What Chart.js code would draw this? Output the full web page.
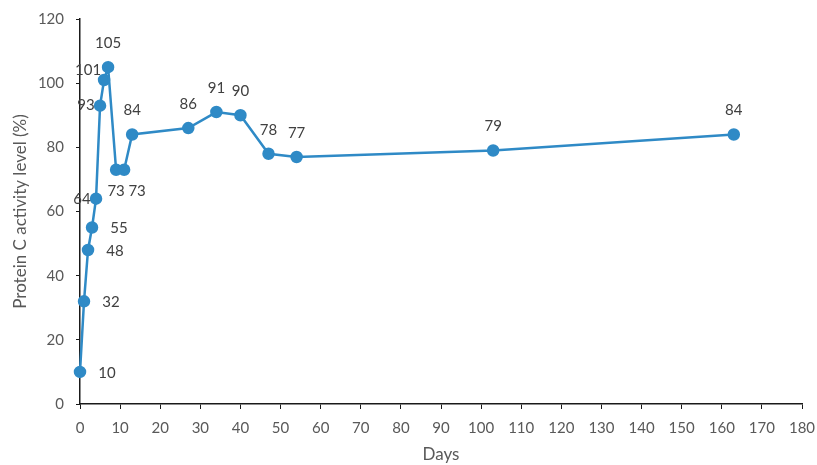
<!DOCTYPE html>
<html>
<head>
<meta charset="utf-8">
<script src="https://cdn.jsdelivr.net/npm/chart.js@4/dist/chart.umd.min.js"></script>
<style>
html,body{margin:0;padding:0;background:#fff;}
#wrap{width:817px;height:465px;position:relative;}
</style>
</head>
<body>
<div id="wrap"><canvas id="c" width="817" height="465"></canvas></div>
<script>
// Data
const days = [0, 1, 2, 3, 4, 5, 6, 7, 9, 11, 13, 27, 34, 40, 47, 54, 103, 163];
const proteinC = [10, 32, 48, 55, 64, 93, 101, 105, 73, 73, 84, 86, 91, 90, 78, 77, 79, 84];
const xTicks = [0,10,20,30,40,50,60,70,80,90,100,110,120,130,140,150,160,170,180];
const yTicks = [0,20,40,60,80,100,120];
const xTitle = 'Days';
const yTitle = 'Protein C activity level (%)';
// label placement (style only)
const labelPos = ['right','right','right','right','left','left','upleft','above','below','belowright','above','above','above','above','above','above','above','above'];

const FONT = 'Lato, "Open Sans", sans-serif';

const labelPlugin = {
  id: 'pointLabels',
  afterDatasetsDraw(chart) {
    const ctx = chart.ctx;
    const meta = chart.getDatasetMeta(0);
    ctx.save();
    ctx.font = '15px ' + FONT;
    ctx.fillStyle = '#404040';
    ctx.textBaseline = 'middle';
    meta.data.forEach((pt, i) => {
      const v = chart.data.datasets[0].data[i].y;
      let x = pt.x, y = pt.y;
      const pos = labelPos[i];
      ctx.textAlign = 'center';
      if (pos === 'right') { x += 27; y += 1; }
      else if (pos === 'left') { x -= 14; y += 0; }
      else if (pos === 'upleft') { x -= 16; y -= 10; }
      else if (pos === 'above') { y -= 24; }
      else if (pos === 'below') { y += 21; }
      else if (pos === 'belowright') { x += 13; y += 21; }
      ctx.fillText(String(v), x, y);
    });
    ctx.restore();
  }
};

new Chart(document.getElementById('c'), {
  type: 'line',
  data: {
    datasets: [{
      data: days.map((d, i) => ({x: d, y: proteinC[i]})),
      borderColor: '#2f8ac6',
      backgroundColor: '#2f8ac6',
      borderWidth: 2.5,
      pointRadius: 5,
      pointHoverRadius: 5,
      pointBackgroundColor: '#2f8ac6',
      pointBorderColor: '#2f8ac6',
      tension: 0,
      clip: false
    }]
  },
  options: {
    responsive: false,
    animation: false,
    devicePixelRatio: 1,
    layout: { padding: { left: 0, right: 15, top: 19, bottom: 0 } },
    plugins: { legend: { display: false }, tooltip: { enabled: false } },
    scales: {
      x: {
        type: 'linear',
        min: 0, max: 180,
        afterBuildTicks: (s) => { s.ticks = xTicks.map(v => ({value: v})); },
        afterFit: (s) => { s.height = 465 - 404; s.paddingLeft = 0; s.paddingRight = 0; },
        border: { display: true, color: '#1a1a1a', width: 1.5 },
        grid: { display: true, drawOnChartArea: false, drawTicks: true, tickLength: 5, color: '#1a1a1a', lineWidth: 1 },
        ticks: { color: '#595959', font: { family: FONT, size: 15 }, padding: 10, maxRotation: 0, autoSkip: false },
        title: { display: true, text: xTitle, color: '#595959', font: { family: FONT, size: 17 }, padding: { top: 0, bottom: 0 } }
      },
      y: {
        min: 0, max: 120,
        afterBuildTicks: (s) => { s.ticks = yTicks.map(v => ({value: v})); },
        afterFit: (s) => { s.width = 80; s.paddingTop = 0; s.paddingBottom = 0; },
        border: { display: true, color: '#1a1a1a', width: 1.5 },
        grid: { display: true, drawOnChartArea: false, drawTicks: true, tickLength: 4, color: '#1a1a1a', lineWidth: 1 },
        ticks: { color: '#595959', font: { family: FONT, size: 15 }, padding: 12 },
        title: { display: true, text: yTitle, color: '#595959', font: { family: FONT, size: 17 }, padding: { top: 10, bottom: 4 } }
      }
    }
  },
  plugins: [labelPlugin]
});
</script>
</body>
</html>
